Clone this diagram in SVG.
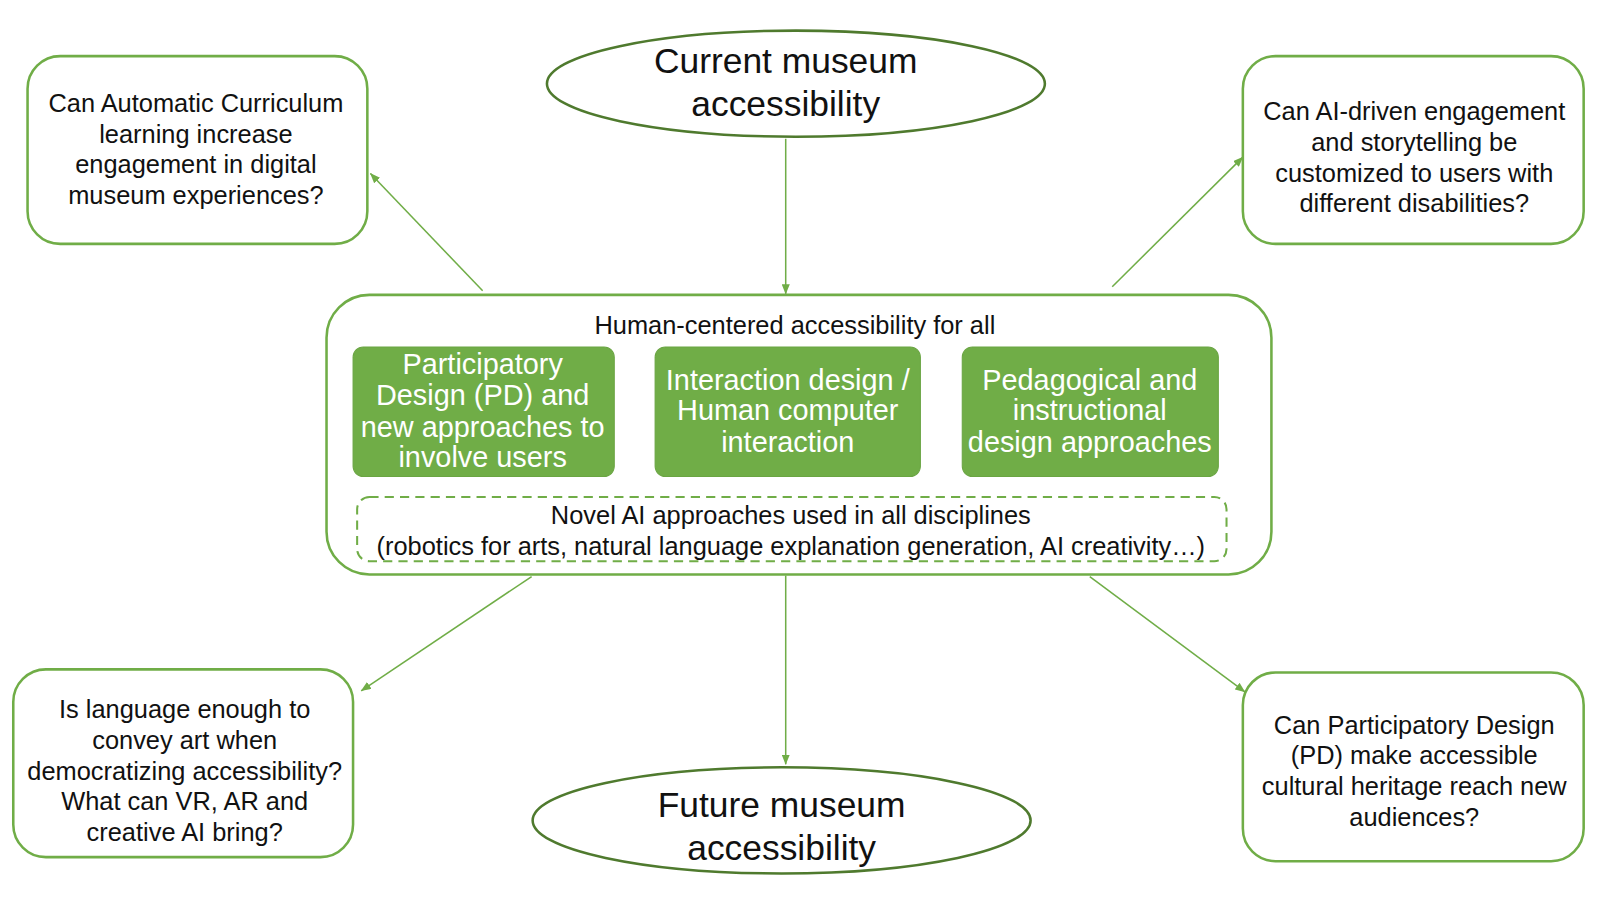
<svg xmlns="http://www.w3.org/2000/svg" width="1600" height="900" viewBox="0 0 1600 900">
<defs>
<style>
text{font-family:"Liberation Sans",Arial,sans-serif;text-anchor:middle;fill:#111}
.q{font-size:24.9px}
.big{font-size:34.7px}
.g{font-size:28.3px;fill:#fff}
.box{fill:#fff;stroke:#70ad47;stroke-width:2.5}
.ell{fill:#fff;stroke:#4f7a2e;stroke-width:2.5}
.gbox{fill:#70ad47;stroke:#6aa543;stroke-width:1}
.dash{fill:none;stroke:#70ad47;stroke-width:2;stroke-dasharray:9 6}
.con{stroke:#70ad47;stroke-width:1.5;fill:none;marker-end:url(#ah)}
</style>
<marker id="ah" viewBox="0 0 10 8" refX="9.5" refY="4" markerWidth="10" markerHeight="8" markerUnits="userSpaceOnUse" orient="auto">
<path d="M0,0 L10,4 L0,8 z" fill="#70ad47"/>
</marker>
</defs>
<rect width="1600" height="900" fill="#fff"/>
<g id="diagram" transform="scale(1.0204)">
<g id="connectors">
<line class="con" x1="770" y1="136" x2="770" y2="288"/>
<line class="con" x1="770" y1="564" x2="770" y2="749"/>
<line class="con" x1="473" y1="285" x2="363" y2="170"/>
<line class="con" x1="1090" y1="281" x2="1218" y2="154"/>
<line class="con" x1="521" y1="565" x2="354" y2="677"/>
<line class="con" x1="1068" y1="565" x2="1220" y2="678"/>
</g>
<g id="current">
<ellipse class="ell" cx="780" cy="82" rx="244" ry="52"/>
<text class="big" x="770" y="72">Current museum</text>
<text class="big" x="770" y="114">accessibility</text>
</g>
<g id="future">
<ellipse class="ell" cx="766" cy="804" rx="244" ry="52"/>
<text class="big" x="766" y="801">Future museum</text>
<text class="big" x="766" y="843">accessibility</text>
</g>
<g id="q-curriculum">
<rect class="box" x="27" y="55" width="333" height="184" rx="32"/>
<text class="q" x="192" y="110">Can Automatic Curriculum</text>
<text class="q" x="192" y="140">learning increase</text>
<text class="q" x="192" y="170">engagement in digital</text>
<text class="q" x="192" y="200">museum experiences?</text>
</g>
<g id="q-storytelling">
<rect class="box" x="1218" y="55" width="334" height="184" rx="32"/>
<text class="q" x="1386" y="118">Can AI-driven engagement</text>
<text class="q" x="1386" y="148">and storytelling be</text>
<text class="q" x="1386" y="178">customized to users with</text>
<text class="q" x="1386" y="208">different disabilities?</text>
</g>
<g id="q-language">
<rect class="box" x="13" y="656" width="333" height="184" rx="32"/>
<text class="q" x="181" y="704">Is language enough to</text>
<text class="q" x="181" y="734">convey art when</text>
<text class="q" x="181" y="764">democratizing accessibility?</text>
<text class="q" x="181" y="794">What can VR, AR and</text>
<text class="q" x="181" y="824">creative AI bring?</text>
</g>
<g id="q-pd">
<rect class="box" x="1218" y="659" width="334" height="185" rx="32"/>
<text class="q" x="1386" y="719">Can Participatory Design</text>
<text class="q" x="1386" y="749">(PD) make accessible</text>
<text class="q" x="1386" y="779">cultural heritage reach new</text>
<text class="q" x="1386" y="809">audiences?</text>
</g>
<g id="human-centered">
<rect class="box" x="320" y="289" width="926" height="274" rx="42"/>
<text class="q" x="779" y="327">Human-centered accessibility for all</text>
</g>
<g id="pd-approaches">
<rect class="gbox" x="346" y="340" width="256" height="127" rx="10"/>
<text class="g" x="473" y="367">Participatory</text>
<text class="g" x="473" y="397">Design (PD) and</text>
<text class="g" x="473" y="428">new approaches to</text>
<text class="g" x="473" y="458">involve users</text>
</g>
<g id="hci">
<rect class="gbox" x="642" y="340" width="260" height="127" rx="10"/>
<text class="g" x="772" y="382">Interaction design /</text>
<text class="g" x="772" y="412">Human computer</text>
<text class="g" x="772" y="443">interaction</text>
</g>
<g id="pedagogical">
<rect class="gbox" x="943" y="340" width="251" height="127" rx="10"/>
<text class="g" x="1068" y="382">Pedagogical and</text>
<text class="g" x="1068" y="412">instructional</text>
<text class="g" x="1068" y="443">design approaches</text>
</g>
<g id="novel-ai">
<rect class="dash" x="350" y="487" width="852" height="63" rx="12"/>
<text class="q" x="775" y="514">Novel AI approaches used in all disciplines</text>
<text class="q" x="775" y="544">(robotics for arts, natural language explanation generation, AI creativity…)</text>
</g>
</g>
</svg>
